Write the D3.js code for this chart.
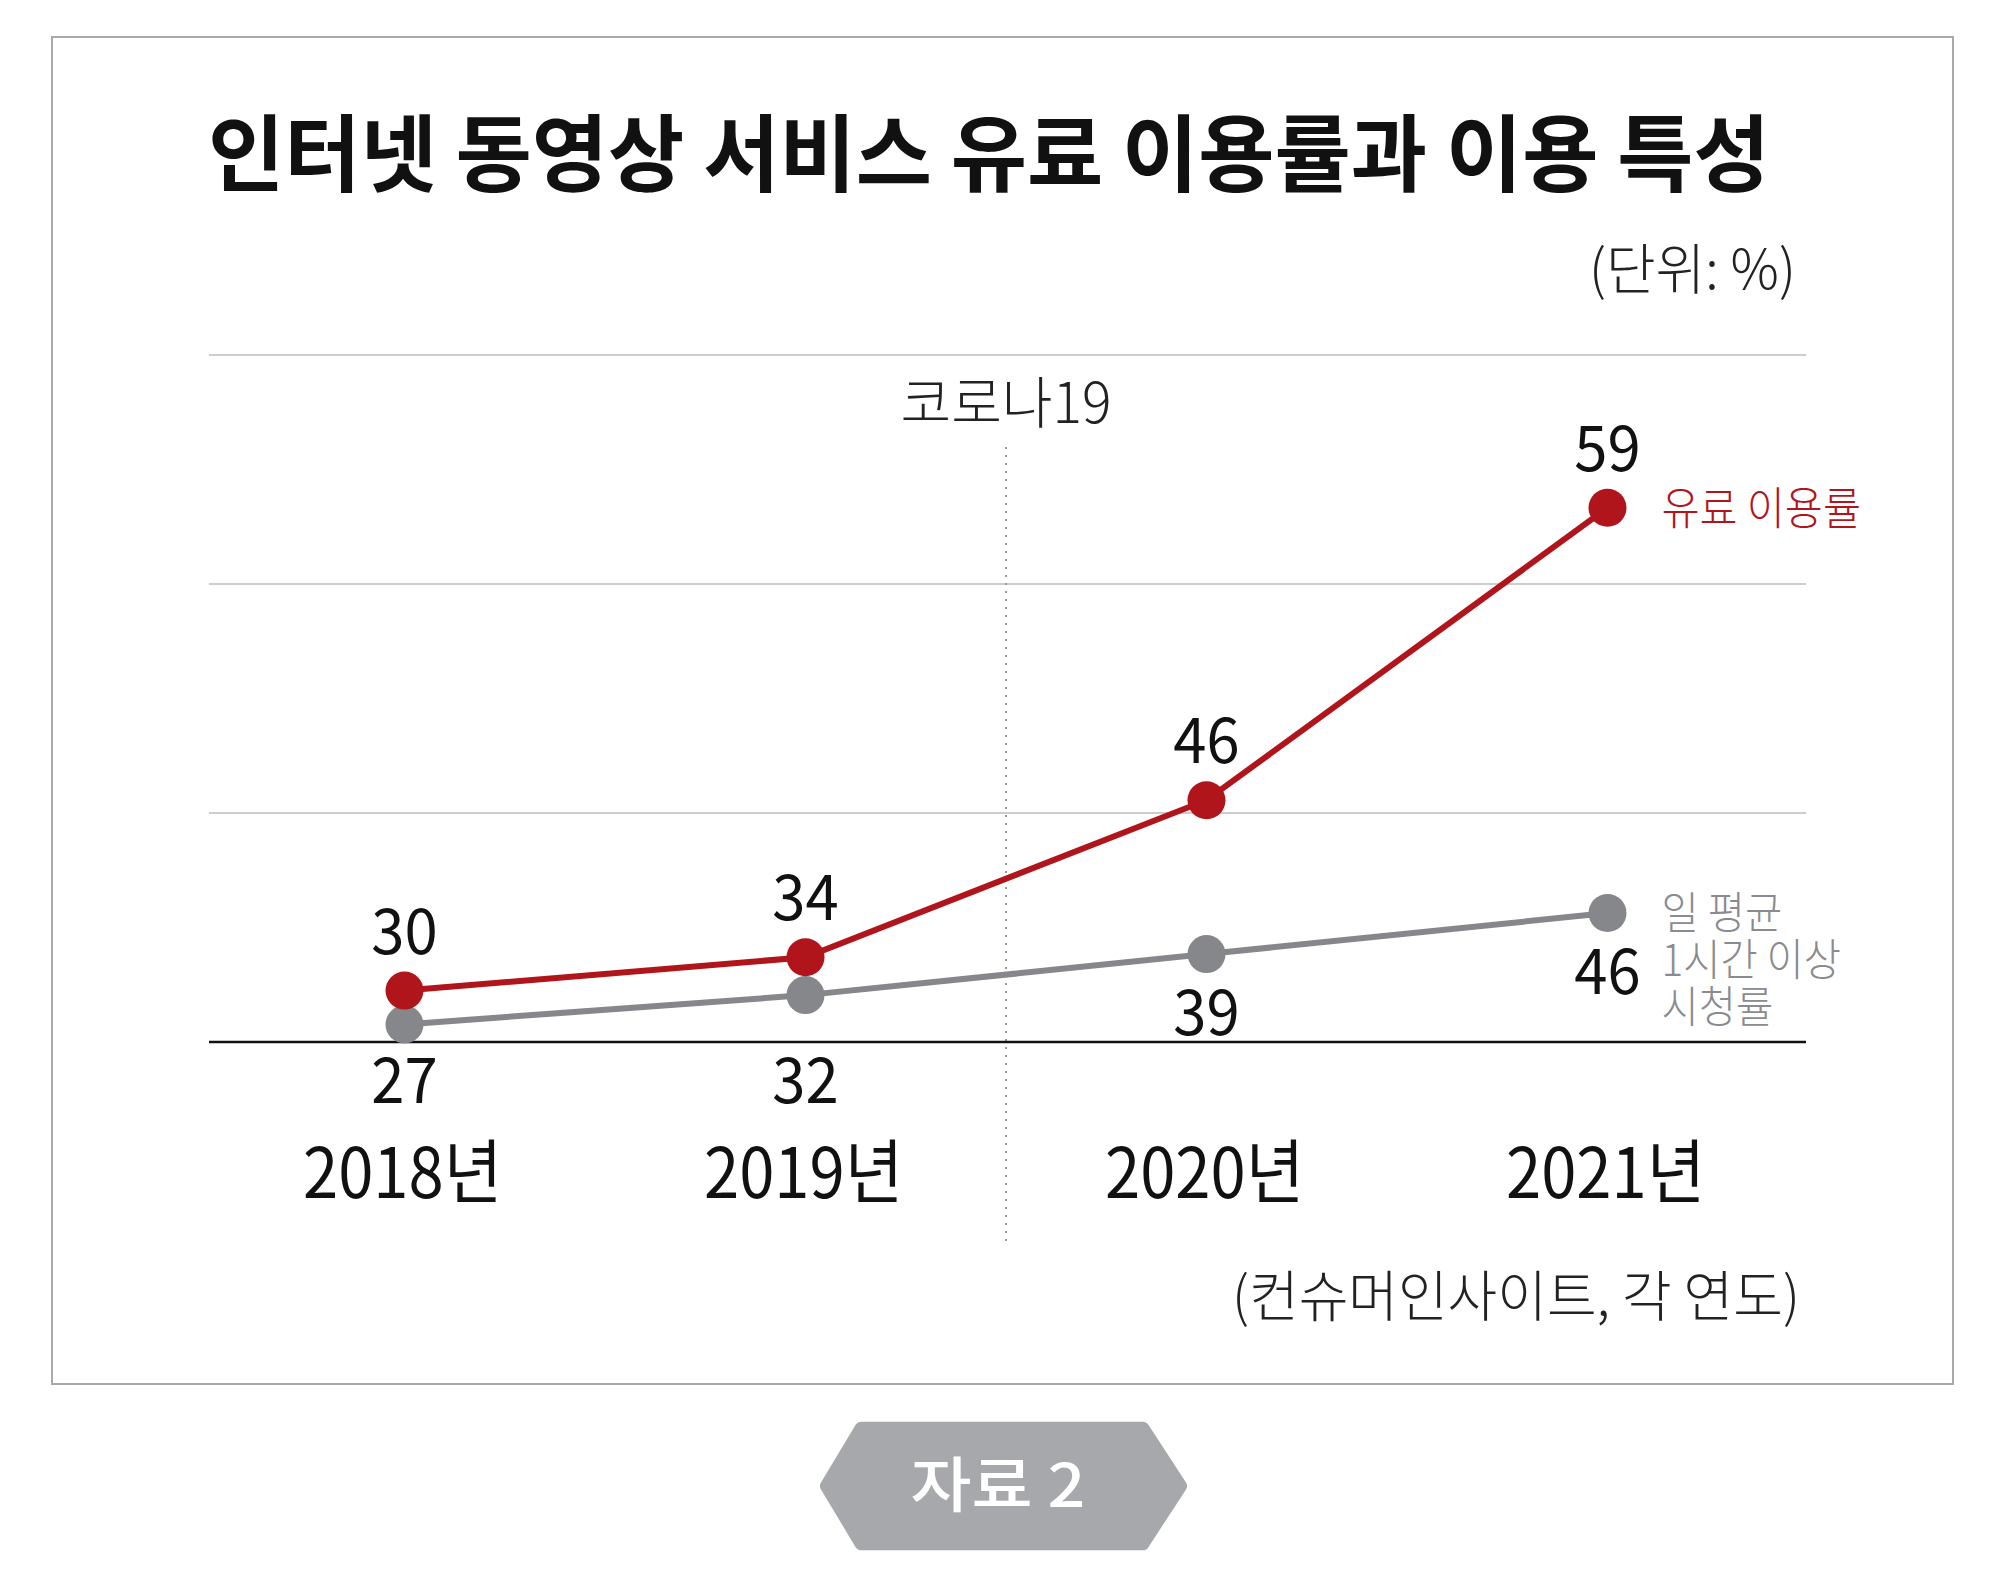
<!DOCTYPE html>
<html>
<head>
<meta charset="utf-8">
<script src="https://cdn.jsdelivr.net/npm/d3@7/dist/d3.min.js"></script>
<style>
  html, body { margin: 0; padding: 0; background: #fff; }
  svg { display: block; }
  text { font-family: "Noto Sans CJK KR", "Noto Sans KR", "Noto Sans", sans-serif; }
</style>
</head>
<body>
<svg id="chart" width="2000" height="1580"></svg>
<script>
// ---------------- data ----------------
const years = ["2018년", "2019년", "2020년", "2021년"];
const paidRate = [30, 34, 46, 59];          // 유료 이용률
const watchRate = [27, 32, 39, 46];         // 일 평균 1시간 이상 시청률
const gridSteps = [0, 1, 2, 3];
const dividerBetween = ["2019년", "2020년"];
const titleText = "인터넷 동영상 서비스 유료 이용률과 이용 특성";
const unitText = "(단위: %)";
const sourceText = "(컨슈머인사이트, 각 연도)";
const dividerLabel = "코로나19";
const paidLegend = ["유료 이용률"];
const watchLegend = ["일 평균", "1시간 이상", "시청률"];
const badgeText = "자료 2";

// ---------------- layout ----------------
const plotLeft = 209, plotRight = 1806, plotTop = 355, axisY = 1042;
const RED = "#b1151c", GRAY = "#86878b";

const svg = d3.select("#chart");

const x = d3.scalePoint().domain(years).range([204, 1808]).padding(0.5);
const yGrid = d3.scaleLinear().domain([0, 3]).range([axisY, plotTop]);
const yPaid = d3.scalePow().exponent(3).domain([20, 60]).range([axisY, axisY - 563]);
const yWatch = d3.scaleLinear().domain([24, 60]).range([axisY, axisY - 211]);

function fitText(parent, px, py, str, width, anchor, style) {
  const g = parent.append("g");
  const t = g.append("text").attr("x", 0).attr("y", 0).attr("text-anchor", "start").text(str);
  Object.entries(style).forEach(([k, v]) => t.style(k, v));
  const w = t.node().getComputedTextLength() || width;
  const sx = width / w;
  const dx = anchor === "middle" ? -width / 2 : anchor === "end" ? -width : 0;
  g.attr("transform", `translate(${px + dx},${py}) scale(${sx},1)`);
  return t;
}
function scaledText(parent, px, py, str, sx, anchor, style) {
  const g = parent.append("g").attr("transform", `translate(${px},${py}) scale(${sx},1)`);
  const t = g.append("text").attr("text-anchor", anchor).text(str);
  Object.entries(style).forEach(([k, v]) => t.style(k, v));
  return t;
}

// frame
svg.append("rect")
  .attr("x", 52).attr("y", 37).attr("width", 1901).attr("height", 1347)
  .attr("fill", "none").attr("stroke", "#a9a9a9").attr("stroke-width", 2);

// title
fitText(svg, 208, 185, titleText, 1562, "start",
  { "font-size": "84px", "font-weight": "700", "fill": "#111" });

// unit
fitText(svg, 1796, 289, unitText, 207, "end",
  { "font-size": "55px", "font-weight": "300", "fill": "#222" });

// gridlines
svg.append("g").selectAll("line").data(gridSteps.filter(d => d > 0)).join("line")
  .attr("x1", plotLeft).attr("x2", plotRight)
  .attr("y1", d => yGrid(d)).attr("y2", d => yGrid(d))
  .attr("stroke", "#bdbdbd").attr("stroke-width", 1.6);

// divider (코로나19)
const divX = (x(dividerBetween[0]) + x(dividerBetween[1])) / 2;
svg.append("line")
  .attr("x1", divX).attr("x2", divX).attr("y1", 447).attr("y2", 1242)
  .attr("stroke", "#9a9a9a").attr("stroke-width", 2).attr("stroke-dasharray", "2,6");
fitText(svg, divX, 423, dividerLabel, 211, "middle",
  { "font-size": "56px", "font-weight": "300", "fill": "#222" });

// axis baseline
svg.append("line")
  .attr("x1", plotLeft).attr("x2", plotRight).attr("y1", axisY).attr("y2", axisY)
  .attr("stroke", "#111").attr("stroke-width", 2.5);

// series
const paid = years.map((yr, i) => ({ yr, v: paidRate[i], i }));
const watch = years.map((yr, i) => ({ yr, v: watchRate[i], i }));

svg.append("path").datum(watch)
  .attr("d", d3.line().x(d => x(d.yr)).y(d => yWatch(d.v)))
  .attr("fill", "none").attr("stroke", GRAY).attr("stroke-width", 6);
svg.append("path").datum(paid)
  .attr("d", d3.line().x(d => x(d.yr)).y(d => yPaid(d.v)))
  .attr("fill", "none").attr("stroke", RED).attr("stroke-width", 6);

svg.append("g").selectAll("circle").data(watch).join("circle")
  .attr("cx", d => x(d.yr)).attr("cy", d => yWatch(d.v)).attr("r", 19).attr("fill", GRAY);
svg.append("g").selectAll("circle").data(paid).join("circle")
  .attr("cx", d => x(d.yr)).attr("cy", d => yPaid(d.v)).attr("r", 19).attr("fill", RED);

// value labels
const numStyle = { "font-size": "63px", "font-weight": "400", "fill": "#111" };
paid.forEach(d => {
  scaledText(svg, x(d.yr), yPaid(d.v) - 37, String(d.v), 0.95, "middle", numStyle);
});
const divIndex = years.indexOf(dividerBetween[1]);
watch.forEach(d => {
  const yy = d.i < divIndex ? axisY + 61 : yWatch(d.v) + 81;
  scaledText(svg, x(d.yr), yy, String(d.v), 0.95, "middle", numStyle);
});

// x labels
years.forEach(yr => {
  fitText(svg, x(yr) - 2, 1198, yr, 199, "middle",
    { "font-size": "70px", "font-weight": "400", "fill": "#111" });
});

// legends
const lastX = x(years[years.length - 1]) + 54;
const lastPaidY = yPaid(paidRate[paidRate.length - 1]);
paidLegend.forEach((s, i) => {
  scaledText(svg, lastX, lastPaidY + 17 + i * 47, s, 0.92, "start",
    { "font-size": "45px", "font-weight": "300", "fill": RED });
});
const lastWatchY = yWatch(watchRate[watchRate.length - 1]);
watchLegend.forEach((s, i) => {
  scaledText(svg, lastX, lastWatchY + 16 + i * 47, s, 0.92, "start",
    { "font-size": "44px", "font-weight": "300", "fill": "#8a8b8f" });
});

// source
fitText(svg, 1800, 1316, sourceText, 568, "end",
  { "font-size": "55px", "font-weight": "300", "fill": "#222" });

// badge
const by = 1486, inset = 7;
const hexPts = [
  [820, by], [855, 1426], [1149, 1426], [1187, by], [1149, 1546], [855, 1546]
];
const cx0 = d3.mean(hexPts, p => p[0]), cy0 = by;
svg.append("path")
  .attr("d", d3.line()(hexPts.map(p => {
    const dx = p[0] - cx0, dy = p[1] - cy0, len = Math.hypot(dx, dy);
    return [p[0] - dx / len * inset, p[1] - dy / len * inset];
  })) + "Z")
  .attr("fill", "#a7a8ab").attr("stroke", "#a7a8ab")
  .attr("stroke-width", inset * 2).attr("stroke-linejoin", "round");
fitText(svg, 998, 1507, badgeText, 175, "middle",
  { "font-size": "60px", "font-weight": "500", "fill": "#fff" });
</script>
</body>
</html>
